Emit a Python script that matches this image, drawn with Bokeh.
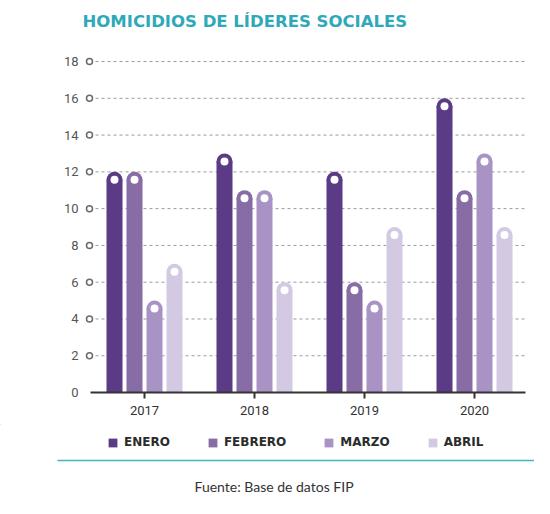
from bokeh.plotting import figure
from bokeh.layouts import column
from bokeh.models import ColumnDataSource, Range1d, FixedTicker, Legend, LegendItem
from bokeh.core.properties import value
from bokeh.embed import file_html
from bokeh.resources import INLINE

# ---------------- data ----------------
years = ["2017", "2018", "2019", "2020"]
months = ["ENERO", "FEBRERO", "MARZO", "ABRIL"]
enero = [12, 13, 12, 16]
febrero = [12, 11, 6, 11]
marzo = [5, 11, 5, 13]
abril = [7, 6, 9, 9]
series = [enero, febrero, marzo, abril]
y_ticks = [0, 2, 4, 6, 8, 10, 12, 14, 16, 18]
title_text = "HOMICIDIOS DE LÍDERES SOCIALES"
source_text = "Fuente: Base de datos FIP"

# ---------------- style / layout ----------------
colors = ["#5b3a86", "#876ca6", "#a893c4", "#d3c9e3"]
teal = "#2fa9b9"
W = 534
H0, H1, H2 = 50, 374, 74
BL, BR, BT, BB = 82, 4, 0, 30
fw, fh = W - BL - BR, H1 - BT - BB
pxx = 110.0
pxy = 331.0 / 18.0
X0 = -7.0 / pxx
X1 = X0 + fw / pxx
Y1 = 18.6
Y0 = Y1 - fh / pxy


def px_to_x(px):  # figure pixel x -> data x
    return X0 + (px - BL) / pxx


def blank_figure(h):
    f = figure(width=W, height=h, output_backend="svg", toolbar_location=None,
               x_range=Range1d(0, W), y_range=Range1d(h, 0),
               x_axis_location=None, y_axis_location=None,
               min_border_left=0, min_border_right=0, min_border_top=0, min_border_bottom=0)
    f.frame_align = False
    f.outline_line_color = None
    f.xgrid.grid_line_color = None
    f.ygrid.grid_line_color = None
    return f


# ---------------- header: title ----------------
p0 = blank_figure(H0)
p0.text(x=[82], y=[21], text=[title_text], text_baseline="middle", text_align="left",
        text_font=value("DejaVu Sans"), text_font_style="bold", text_font_size="16.5px",
        text_color=teal)

# ---------------- main chart ----------------
bar_px = 16
step_px = 20
r_data = (bar_px / 2) / pxy
offsets = [(j - 1.5) * step_px / pxx for j in range(len(months))]

p = figure(width=W, height=H1, output_backend="svg", toolbar_location=None,
           x_range=Range1d(X0, X1), y_range=Range1d(Y0, Y1),
           min_border_left=BL, min_border_right=BR, min_border_top=BT, min_border_bottom=BB)
p.frame_align = False
p.outline_line_color = None
p.xgrid.grid_line_color = None
p.ygrid.grid_line_color = None
p.background_fill_color = "white"
p.border_fill_color = "white"

tick_font = "Roboto"

# dashed gridlines + hollow circle markers
gt = y_ticks[1:]
p.segment(x0=[px_to_x(95)] * len(gt), y0=gt, x1=[px_to_x(525)] * len(gt), y1=gt,
          line_color="#9a9a9a", line_width=1, line_dash="3 3")
p.scatter(x=[0] * len(gt), y=gt, marker="circle", size=6, fill_color="white",
          line_color="#6a6a6a", line_width=1.5)

# bars with rounded tops
for j, (m, vals) in enumerate(zip(months, series)):
    xs = [i + 0.5 + offsets[j] for i in range(len(years))]
    src = ColumnDataSource(dict(x=xs, top=[v - r_data for v in vals]))
    p.vbar(x="x", top="top", bottom=0, width=bar_px / pxx, source=src,
           fill_color=colors[j], line_color=None)
    p.scatter(x="x", y="top", source=src, marker="circle", size=bar_px,
              fill_color=colors[j], line_color=None)
    p.scatter(x="x", y="top", source=src, marker="circle", size=8,
              fill_color="white", line_color=None)

# baseline
p.segment(x0=[px_to_x(90)], y0=[0], x1=[px_to_x(525)], y1=[0], line_color="#333333", line_width=2)

# axes
p.yaxis.ticker = FixedTicker(ticks=y_ticks)
p.yaxis.axis_line_color = None
p.yaxis.major_tick_line_color = None
p.yaxis.minor_tick_line_color = None
p.yaxis.major_tick_out = 0
p.yaxis.major_tick_in = 0
p.yaxis.major_label_standoff = 4
p.yaxis.major_label_text_font = tick_font
p.yaxis.major_label_text_font_size = "13px"
p.yaxis.major_label_text_color = "#555555"

centers = [i + 0.5 for i in range(len(years))]
p.xaxis.ticker = FixedTicker(ticks=centers)
p.xaxis.major_label_overrides = {c: y for c, y in zip(centers, years)}
p.xaxis.axis_line_color = None
p.xaxis.minor_tick_line_color = None
p.xaxis.major_tick_line_color = "#333333"
p.xaxis.major_tick_line_width = 2
p.xaxis.major_tick_in = 2
p.xaxis.major_tick_out = 4
p.xaxis.major_label_standoff = 7
p.xaxis.major_label_text_font = tick_font
p.xaxis.major_label_text_font_size = "13px"
p.xaxis.major_label_text_color = "#333333"

# ---------------- footer: legend, rule, source ----------------
p2 = blank_figure(H2)

items = []
for j, m in enumerate(months):
    # legend swatch renderers (kept far outside the visible range)
    r = p2.vbar(x=[-5000], top=[-5000], bottom=-5001, width=1, fill_color=colors[j], line_color=None)
    items.append(LegendItem(label=m, renderers=[r]))

leg = Legend(items=items, orientation="horizontal", location=(107, 49),
             glyph_width=11, glyph_height=11, label_height=11, label_standoff=6,
             spacing=37, padding=0, margin=0, border_line_color=None,
             background_fill_alpha=0,
             label_text_font="DejaVu Sans", label_text_font_style="bold",
             label_text_font_size="12px", label_text_color="#2b2b2b")
p2.add_layout(leg, "center")

p2.segment(x0=[57], y0=[36], x1=[W], y1=[36], line_color="#3db6c6", line_width=1.5)
p2.text(x=[194], y=[62], text=[source_text], text_baseline="middle", text_align="left",
        text_font=value("Lato"), text_font_size="14px", text_color="#333333")

layout = column(p0, p, p2, spacing=0)
open("out.html", "w").write(file_html(layout, INLINE))
